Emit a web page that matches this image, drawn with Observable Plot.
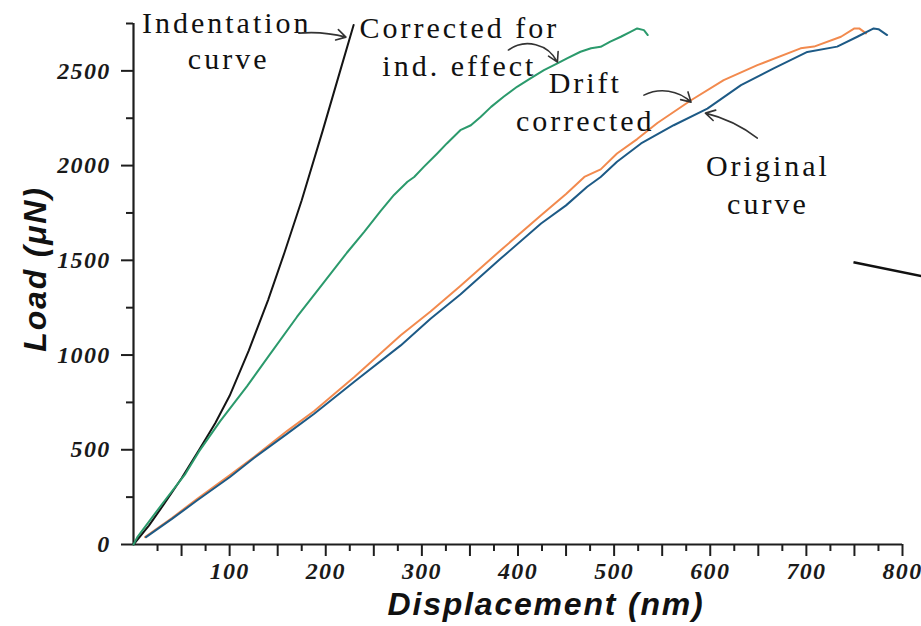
<!DOCTYPE html>
<html><head><meta charset="utf-8">
<script src="https://cdn.jsdelivr.net/npm/d3@7"></script>
<script src="https://cdn.jsdelivr.net/npm/@observablehq/plot@0.6"></script>
<style>
html,body{margin:0;padding:0;background:#fff;overflow:hidden;}
g[font-size="24"] text{letter-spacing:1.3px;}
g[font-size="30"] text{letter-spacing:3px;}
g[font-size="32"] text{letter-spacing:1.8px;}
</style></head><body><div id="chart"></div>
<script>
// ---- data: [displacement (nm), load (µN)] ----
const indentationCurve = [[0,0],[16,100],[32,215],[50,350],[68,497],[85,640],[100,785],[120,1025],[140,1290],[157,1540],[175,1817],[197,2187],[215,2500],[229,2742]];
const correctedIndEffect = [[0,0],[4,39],[30,215],[54,373],[68,490],[90,650],[118,835],[140,990],[170,1201],[196,1370],[222,1540],[240,1650],[257,1760],[271,1845],[285,1915],[292,1940],[302,1993],[316,2064],[326,2117],[340,2187],[351,2213],[361,2257],[372,2310],[385,2363],[399,2416],[413,2460],[427,2504],[441,2539],[451,2566],[465,2601],[476,2619],[486,2627],[496,2654],[507,2680],[517,2706],[524,2724],[531,2715],[535,2689]];
const driftCorrected = [[12,39],[40,140],[66,240],[100,365],[125,460],[160,600],[188,705],[230,885],[278,1104],[309,1230],[340,1365],[382,1553],[424,1738],[450,1850],[469,1940],[486,1980],[503,2064],[524,2140],[545,2225],[580,2345],[614,2451],[649,2530],[694,2619],[708,2628],[736,2680],[750,2724],[755,2724],[762,2698]];
const originalCurve = [[13,39],[40,135],[66,232],[100,355],[125,455],[160,585],[188,690],[230,860],[278,1051],[309,1192],[340,1320],[382,1509],[424,1694],[450,1790],[472,1888],[486,1940],[503,2020],[528,2117],[562,2213],[597,2301],[632,2425],[666,2513],[701,2600],[732,2628],[753,2680],[770,2724],[775,2720],[784,2689]];

const seriesNames = ["Indentation curve","Corrected for ind. effect","Drift corrected","Original curve"];
const seriesColors = ["#141414","#2b9a6c","#f28a4e","#1d5a86"];
const seriesData = [indentationCurve, correctedIndEffect, driftCorrected, originalCurve];

// ---- ticks ----
const xLabelTicks = [100,200,300,400,500,600,700,800];
const xMidTicks = [50,150,250,350,450,550,650,750];
const xMinorTicks = [25,75,125,175,225,275,325,375,425,475,525,575,625,675,725,775];
const yLabelTicks = [0,500,1000,1500,2000,2500];
const yMinorTicks = [250,750,1250,1750,2250,2750];

// ---- annotations (data coordinates) ----
const annotationText = [
  {text:"Indentation", disp:97, load:2752},
  {text:"curve", disp:99, load:2562},
  {text:"Corrected for", disp:339, load:2726},
  {text:"ind. effect", disp:339, load:2525},
  {text:"Drift", disp:470, load:2435},
  {text:"corrected", disp:470, load:2235},
  {text:"Original", disp:660, load:1997},
  {text:"curve", disp:660, load:1796}
];
const annotationArrows = [
  {x1:172, y1:2699, x2:221, y2:2678, bend:10},
  {x1:390, y1:2610, x2:441, y2:2546, bend:50},
  {x1:531, y1:2372, x2:580, y2:2335, bend:35},
  {x1:649, y1:2145, x2:595, y2:2277, bend:-12}
];
// stray leader line cropped at the right edge of the figure
const strayLine = [{x1:749, y1:1490, x2:820, y2:1416}];

const rows = seriesData.flatMap((pts, i) => pts.map(([d, l]) => ({series: seriesNames[i], disp: d, load: l})));

const serif = "'Liberation Serif','Times New Roman',serif";
const sans = "'Liberation Sans',Arial,sans-serif";
const axisColor = "#1e1e1e";

const chart = Plot.plot({
  width: 921, height: 626,
  marginLeft: 133, marginRight: 19, marginTop: 23, marginBottom: 82,
  x: {domain: [0, 800]},
  y: {domain: [0, 2750]},
  color: {domain: seriesNames, range: seriesColors},
  style: {fontFamily: serif, background: "#fff"},
  marks: [
    Plot.axisX({ticks: xLabelTicks, tickFormat: d => String(d), tickSize: 12, tickPadding: 5, fontSize: 24, fontStyle: "italic", fontWeight: "bold", fontFamily: serif, label: null, stroke: axisColor, strokeWidth: 2, fill: "#1a1a1a"}),
    Plot.axisX({ticks: xMidTicks, tickSize: 12, tickFormat: () => "", label: null, stroke: axisColor, strokeWidth: 2}),
    Plot.axisX({ticks: xMinorTicks, tickSize: 7, tickFormat: () => "", label: null, stroke: axisColor, strokeWidth: 2}),
    Plot.axisY({ticks: yLabelTicks, tickFormat: d => String(d), tickSize: 12, tickPadding: 11, fontSize: 24, fontStyle: "italic", fontWeight: "bold", fontFamily: serif, label: null, stroke: axisColor, strokeWidth: 2, fill: "#1a1a1a"}),
    Plot.axisY({ticks: yMinorTicks, tickSize: 7, tickFormat: () => "", label: null, stroke: axisColor, strokeWidth: 2}),
    Plot.ruleY([0], {stroke: axisColor, strokeWidth: 2.2}),
    Plot.ruleX([0], {stroke: axisColor, strokeWidth: 2.2}),
    Plot.line(rows, {x: "disp", y: "load", z: "series", stroke: "series", strokeWidth: 2}),
    Plot.text(annotationText, {x: "disp", y: "load", text: "text", fontSize: 30, fontFamily: serif, fill: "#111", textAnchor: "middle", lineAnchor: "middle"}),
    ...annotationArrows.map(a => Plot.arrow([a], {x1: "x1", y1: "y1", x2: "x2", y2: "y2", bend: a.bend, stroke: "#333", strokeWidth: 1.6, headLength: 10})),
    Plot.link(strayLine, {x1: "x1", y1: "y1", x2: "x2", y2: "y2", stroke: "#111", strokeWidth: 2.5}),
    Plot.text(["Displacement (nm)"], {frameAnchor: "bottom", text: d => d, dx: 28, dy: 60, textAnchor: "middle", lineAnchor: "middle", fontSize: 32, fontWeight: "bold", fontStyle: "italic", fontFamily: sans, fill: "#111"}),
    Plot.text(["Load (μN)"], {frameAnchor: "left", text: d => d, rotate: -90, dx: -98, dy: -15, textAnchor: "middle", lineAnchor: "middle", fontSize: 32, fontWeight: "bold", fontStyle: "italic", fontFamily: sans, fill: "#111"})
  ]
});
document.getElementById("chart").appendChild(chart);
</script></body></html>
